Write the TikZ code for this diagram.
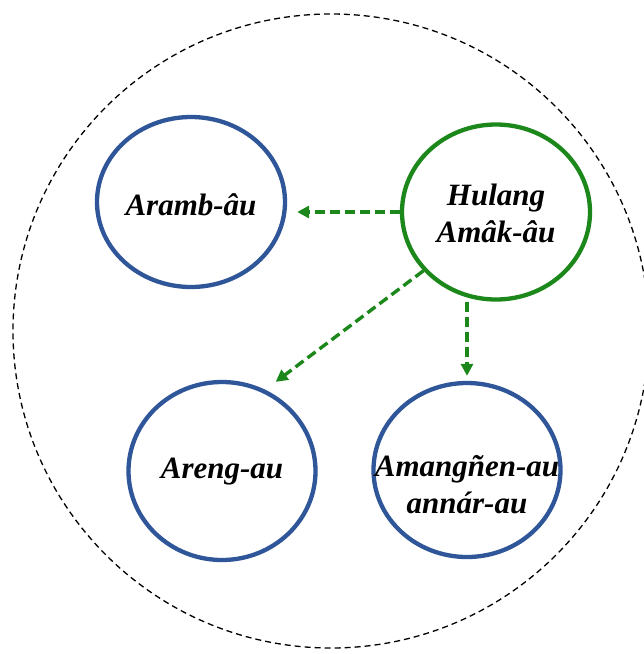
\documentclass[tikz,border=0pt]{standalone}
\usepackage{fontspec}
\setmainfont{Liberation Serif}
\usetikzlibrary{arrows.meta,shapes.geometric}

\definecolor{ringblue}{RGB}{47,86,152}
\definecolor{ringgreen}{RGB}{28,136,28}

\tikzset{
  ring/.style={ellipse, draw=#1, line width=4.3pt, inner sep=0pt, fill=white},
  lbl/.style={font=\fontsize{31}{37}\selectfont\bfseries\itshape, align=center, inner sep=0pt},
  flow/.style={draw=ringgreen, line width=3.4pt, dash pattern=on 10pt off 5pt,
               -{Triangle[length=12pt,width=12pt,fill=ringgreen]}},
  outer/.style={draw=black, line width=1.3pt, dash pattern=on 6pt off 4pt},
}

\begin{document}
\begin{tikzpicture}[x=1pt,y=1pt]
  \useasboundingbox (0,0) rectangle (644,-654);

  % enclosing dashed boundary
  \draw[outer] (331,-331) ellipse [x radius=318, y radius=317];

  % the four entities
  \node[ring=ringblue,  minimum width=188pt, minimum height=170pt] (aramb) at (191,-202) {};
  \node[ring=ringgreen, minimum width=188pt, minimum height=175pt] (hulang) at (496,-212) {};
  \node[ring=ringblue,  minimum width=187pt, minimum height=178pt] (areng) at (222,-471) {};
  \node[ring=ringblue,  minimum width=187pt, minimum height=174pt] (amang) at (467,-470) {};

  \node[lbl] (aramb-t)  at ([yshift=-3pt]aramb.center) {Aramb-âu};
  \node[lbl] (hulang-t) at ([yshift=-1pt]hulang.center) {Hulang\\Amâk-âu};
  \node[lbl] (areng-t)  at ([yshift=-1pt]areng.center) {Areng-au};
  \node[lbl] (amang-t)  at ([yshift=-15pt]amang.center) {Amangñen-au\\annár-au};

  % relations
  \draw[flow, shorten >=10pt] (hulang.west) -- (aramb.east |- hulang.west);
  \draw[flow, shorten >=13pt] (hulang.219) -- (areng.62);
  \draw[flow, shorten >=5pt] (hulang.south -| amang.north) -- (amang.north);
\end{tikzpicture}
\end{document}
